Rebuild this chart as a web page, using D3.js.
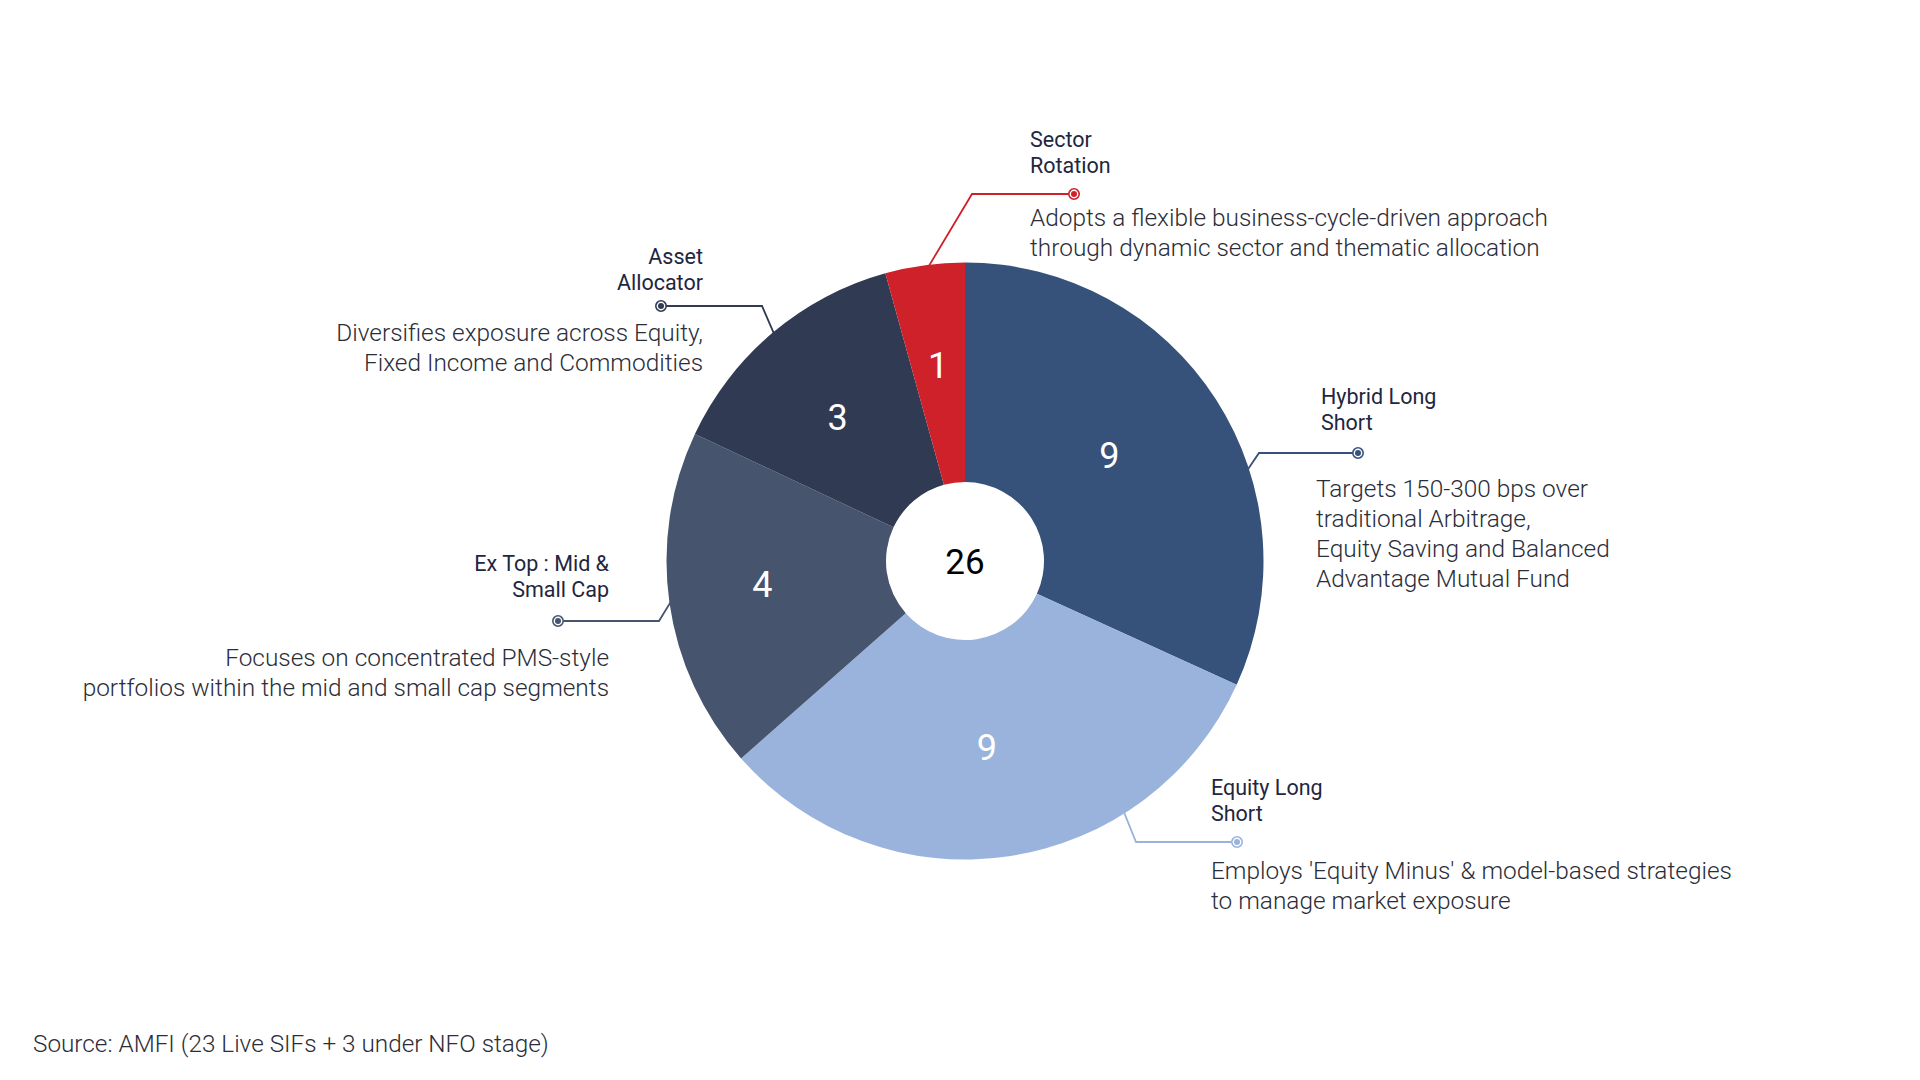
<!DOCTYPE html>
<html>
<head>
<meta charset="utf-8">
<script src="https://cdn.jsdelivr.net/npm/d3@7"></script>
<style>
  html, body { margin: 0; padding: 0; background: #ffffff; }
  svg { display: block; }
</style>
</head>
<body>
<svg id="chart" width="1920" height="1080"></svg>
<script>
// ---------------- DATA ----------------
const categories = ["Hybrid Long Short", "Equity Long Short", "Ex Top : Mid & Small Cap", "Asset Allocator", "Sector Rotation"];
const fundCounts = [9, 9, 4, 3, 1];
// share of the circle each slice occupies as drawn in the reference (%)
const sliceShare = [31.8, 31.7, 18.5, 13.7, 4.3];
const titleLines = [
  ["Hybrid Long", "Short"],
  ["Equity Long", "Short"],
  ["Ex Top : Mid &", "Small Cap"],
  ["Asset", "Allocator"],
  ["Sector", "Rotation"]
];
const descLines = [
  ["Targets 150-300 bps over", "traditional Arbitrage,", "Equity Saving and Balanced", "Advantage Mutual Fund"],
  ["Employs 'Equity Minus' & model-based strategies", "to manage market exposure"],
  ["Focuses on concentrated PMS-style", "portfolios within the mid and small cap segments"],
  ["Diversifies exposure across Equity,", "Fixed Income and Commodities"],
  ["Adopts a flexible business-cycle-driven approach", "through dynamic sector and thematic allocation"]
];
const sourceNote = "Source: AMFI (23 Live SIFs + 3 under NFO stage)";

// ---------------- STYLE / LAYOUT ----------------
const colors = ["#36527A", "#9AB3DC", "#46546D", "#303A52", "#CF2129"];
const cx = 965, cy = 561, R = 298.5, r0 = 79;
const FONT = "Roboto, 'Noto Sans', sans-serif";
// annotation layout per category (same order as categories)
const layout = [
  { anchor: "start", tx: 1321, ty: 404, dx: 1316, dy: 497, dot: [1358, 453], elbowX: 1259, endAng: 72.8,  labAng: 53.8,  labR: 179 },
  { anchor: "start", tx: 1211, ty: 795, dx: 1211, dy: 879, dot: [1237, 842], elbowX: 1136, endAng: 147.5, labAng: 173.3, labR: 187 },
  { anchor: "end",   tx: 609,  ty: 571, dx: 609,  dy: 666, dot: [558, 621],  elbowX: 659,  endAng: 263.2, labAng: 263.5, labR: 204 },
  { anchor: "end",   tx: 703,  ty: 264, dx: 703,  dy: 341, dot: [661, 306],  elbowX: 762,  endAng: 319.7, labAng: 318.4, labR: 192 },
  { anchor: "start", tx: 1030, ty: 147, dx: 1030, dy: 226, dot: [1074, 194], elbowX: 972,  endAng: 352.3, labAng: 352.2, labR: 198 }
];

const data = categories.map((c, i) => ({ name: c, count: fundCounts[i], share: sliceShare[i], i }));

const svg = d3.select("#chart");
const polar = (angDeg, rad) => {
  const a = angDeg * Math.PI / 180;
  return [rad * Math.sin(a), -rad * Math.cos(a)];
};

// leader lines (under the donut)
const gLeaders = svg.append("g");
data.forEach((d, i) => {
  const L = layout[i];
  const p = polar(L.endAng, R - 6);
  gLeaders.append("path")
    .attr("d", d3.line()([[L.dot[0], L.dot[1]], [L.elbowX, L.dot[1]], [cx + p[0], cy + p[1]]]))
    .attr("fill", "none")
    .attr("stroke", colors[i])
    .attr("stroke-width", 1.8);
});

// donut
const pie = d3.pie().sort(null).value(d => d.share).startAngle(0).endAngle(2 * Math.PI);
const arc = d3.arc().innerRadius(r0).outerRadius(R);
const arcs = pie(data);
const gPie = svg.append("g").attr("transform", `translate(${cx},${cy})`);
gPie.selectAll("path.slice").data(arcs).join("path")
  .attr("class", "slice")
  .attr("d", arc)
  .attr("fill", d => colors[d.data.i]);

gPie.selectAll("text.val").data(arcs).join("text")
  .attr("class", "val")
  .attr("transform", d => `translate(${polar(layout[d.data.i].labAng, layout[d.data.i].labR)})`)
  .attr("text-anchor", "middle")
  .attr("dy", "0.36em")
  .attr("font-family", FONT)
  .attr("font-size", 36)
  .attr("font-weight", 400)
  .attr("fill", "#ffffff")
  .text(d => d.data.count);

gPie.append("text")
  .attr("text-anchor", "middle")
  .attr("dy", "0.36em")
  .attr("font-family", FONT)
  .attr("font-size", 35)
  .attr("font-weight", 400)
  .attr("fill", "#000000")
  .text(d3.sum(fundCounts));

// dots
data.forEach((d, i) => {
  const L = layout[i];
  svg.append("circle").attr("cx", L.dot[0]).attr("cy", L.dot[1]).attr("r", 5.2)
    .attr("fill", "#ffffff").attr("stroke", colors[i]).attr("stroke-width", 1.6);
  svg.append("circle").attr("cx", L.dot[0]).attr("cy", L.dot[1]).attr("r", 3)
    .attr("fill", colors[i]);
});

// titles and descriptions
data.forEach((d, i) => {
  const L = layout[i];
  const t = svg.append("text")
    .attr("text-anchor", L.anchor)
    .attr("font-family", FONT)
    .attr("font-size", 21.5)
    .attr("font-weight", 400)
    .attr("fill", "#1E2640");
  titleLines[i].forEach((ln, k) => {
    t.append("tspan").attr("x", L.tx).attr("y", L.ty + k * 25.5).text(ln);
  });
  const s = svg.append("text")
    .attr("text-anchor", L.anchor)
    .attr("font-family", FONT)
    .attr("font-size", 24.4)
    .attr("font-weight", 300)
    .attr("fill", "#2B2D38");
  descLines[i].forEach((ln, k) => {
    s.append("tspan").attr("x", L.dx).attr("y", L.dy + k * 30).text(ln);
  });
});

svg.append("text")
  .attr("x", 33).attr("y", 1052)
  .attr("font-family", FONT)
  .attr("font-size", 24.3)
  .attr("font-weight", 300)
  .attr("fill", "#2B2D38")
  .text(sourceNote);
</script>
</body>
</html>
